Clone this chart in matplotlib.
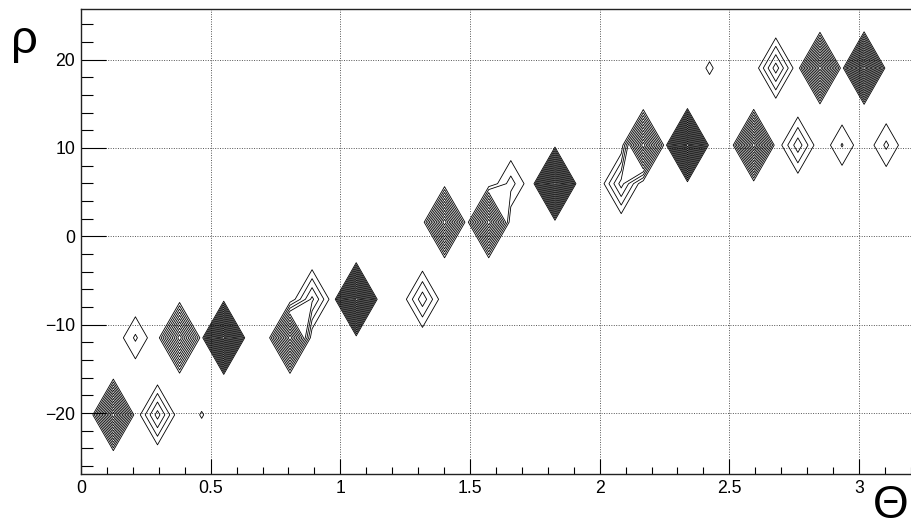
import numpy as np
import matplotlib
matplotlib.use("Agg")
import matplotlib.pyplot as plt
from matplotlib.ticker import MultipleLocator

# ---- data: peaks of the accumulator (theta, rho, height) ----
peak_theta = [0.125, 0.298, 0.467, 0.213, 0.382, 0.551, 0.806, 0.891, 1.063,
              1.316, 1.404, 1.571, 1.657, 1.828, 2.083, 2.168, 2.340, 2.594,
              2.764, 2.936, 3.105, 2.418, 2.679, 2.847, 3.019]
peak_rho = [-20.2, -20.2, -20.2, -11.5, -11.5, -11.5, -11.5, -7.1, -7.1,
            -7.1, 1.6, 1.6, 6.0, 6.0, 6.0, 10.3, 10.3, 10.3,
            10.3, 10.3, 10.3, 19.0, 19.0, 19.0, 19.0]
peak_height = [14, 4.5, 1.1, 2.2, 12, 20, 13, 4.3, 20,
               3.7, 13, 13, 2.5, 20, 4.5, 13, 20, 14,
               3.7, 2.1, 2.25, 1.2, 4.6, 14, 17]
n_levels = 20

# ---- histogram binning ----
th_c0, dth, nth = 0.0395, 0.08515, 37
rh_c0, drh, nrh = -24.56, 4.359, 12
th_centers = th_c0 + dth * np.arange(-1, nth + 1)
rh_centers = rh_c0 + drh * np.arange(-1, nrh + 1)
Z = np.zeros((len(rh_centers), len(th_centers)))
for t, r, h in zip(peak_theta, peak_rho, peak_height):
    k = int(round((t - th_c0) / dth)) + 1
    j = int(round((r - rh_c0) / drh)) + 1
    Z[j, k] = h
TH, RH = np.meshgrid(th_centers, rh_centers)
levels = Z.max() * np.arange(1, n_levels) / n_levels

plt.rcParams['font.family'] = ['Liberation Sans', 'DejaVu Sans']

W, H = 911, 529
fig = plt.figure(figsize=(W / 100, H / 100), dpi=100)
left, right, top, bottom = 81, 913.4, 9.3, 474
ax = fig.add_axes([left / W, 1 - bottom / H, (right - left) / W, (bottom - top) / H])

ax.contour(TH, RH, Z, levels=levels, colors='black', linewidths=0.6)

ax.set_xlim(0, (right - left) / 259.33)
ax.set_ylim(-26.89, 25.68)

ax.xaxis.set_major_locator(MultipleLocator(0.5))
ax.xaxis.set_minor_locator(MultipleLocator(0.1))
ax.yaxis.set_major_locator(MultipleLocator(10))
ax.yaxis.set_minor_locator(MultipleLocator(2))

ax.tick_params(axis='x', which='major', direction='in', length=10.8, width=0.8,
               labelsize=12.7, pad=4, top=False)
ax.tick_params(axis='x', which='minor', direction='in', length=5.4, width=0.8, top=False)
ax.tick_params(axis='y', which='major', direction='in', length=18, width=0.8,
               labelsize=12.7, pad=4.3, right=False)
ax.tick_params(axis='y', which='minor', direction='in', length=8.6, width=0.8, right=False)

ax.xaxis.set_major_formatter(plt.FuncFormatter(lambda v, p: '%g' % v))
ax.yaxis.set_major_formatter(plt.FuncFormatter(lambda v, p: ('%g' % v).replace('-', '\u2212')))

ax.grid(True, which='major', color='#555555', linewidth=0.7, linestyle=(0, (1, 1.5)))
ax.set_axisbelow(True)
for s in ax.spines.values():
    s.set_linewidth(1.0)
    s.set_color('#222222')

fig.text(11 / W, 1 - 53 / H, '\u03c1', fontsize=34, ha='left', va='baseline')
fig.text(909 / W, 1.5 / H, '\u0398', fontsize=33, ha='right', va='bottom')

fig.savefig('out.png', dpi=100)
